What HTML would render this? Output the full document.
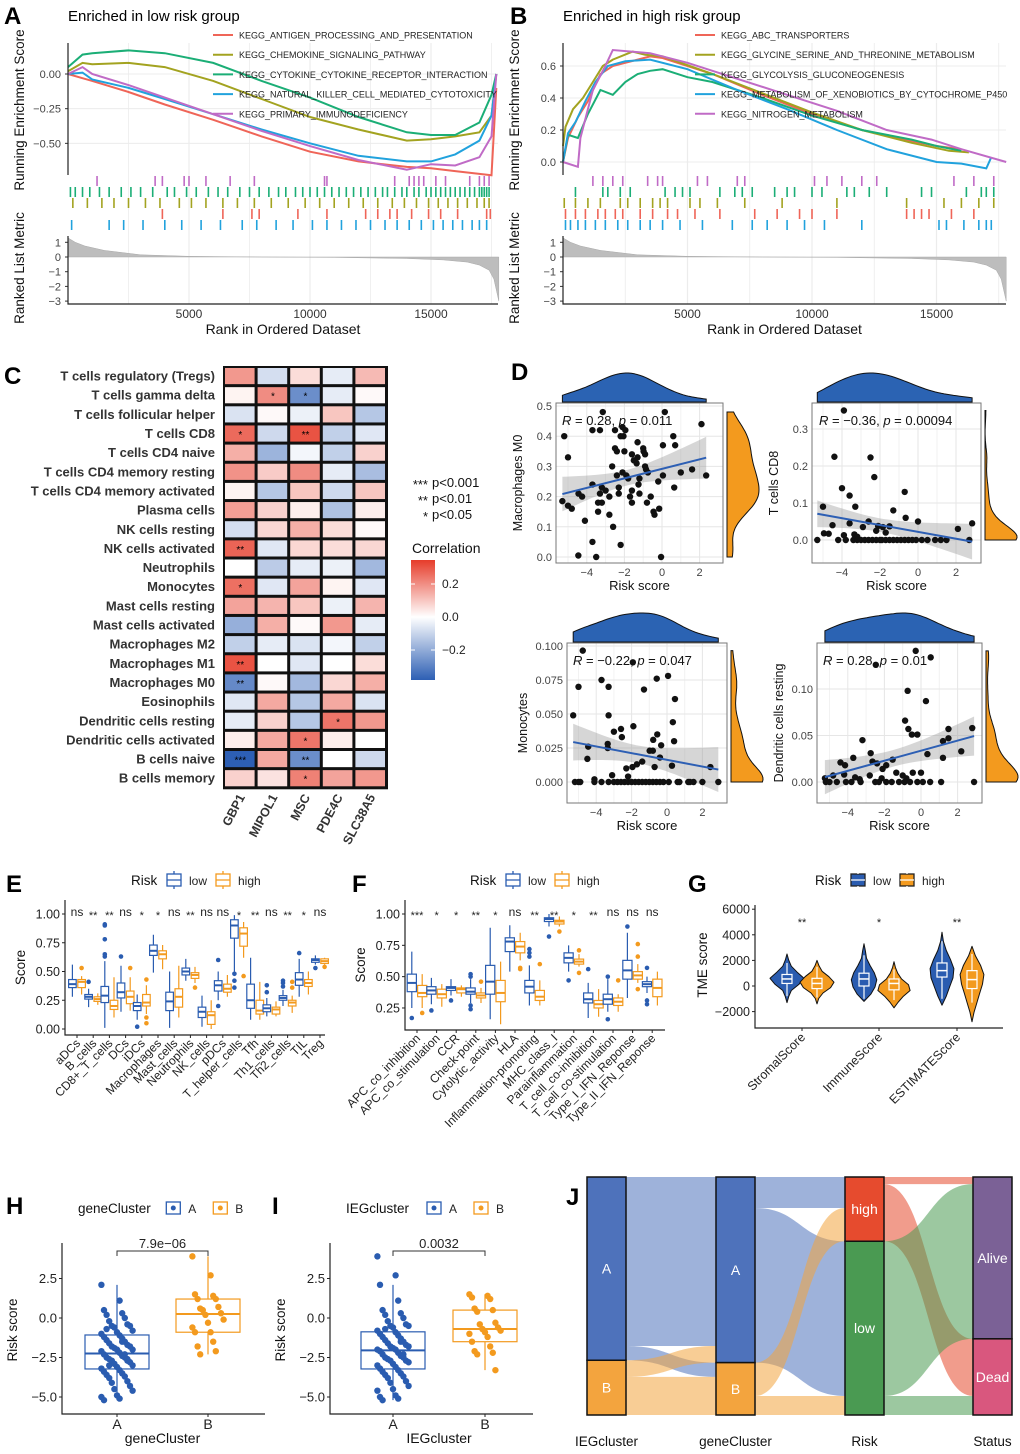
<!DOCTYPE html>
<html><head><meta charset="utf-8"><style>
body{margin:0;background:#fff}
svg{display:block;font-family:"Liberation Sans",Arial,sans-serif}
</style></head><body>
<svg id="fig" width="1020" height="1454" viewBox="0 0 1020 1454" xmlns="http://www.w3.org/2000/svg">
<rect x="0" y="0" width="1020" height="1454" fill="#fff"/>
<defs>
<linearGradient id="corrGrad" x1="0" y1="0" x2="0" y2="1">
<stop offset="0" stop-color="#e63c2a"/><stop offset="0.475" stop-color="#ffffff"/><stop offset="1" stop-color="#2d5fb4"/>
</linearGradient>
</defs>
<g font-weight="bold" font-size="24" fill="#000">
<text x="4" y="24">A</text>
<text x="510" y="24">B</text>
<text x="4" y="384">C</text>
<text x="511" y="380">D</text>
<text x="6" y="892">E</text>
<text x="352" y="892">F</text>
<text x="688" y="892">G</text>
<text x="6" y="1214">H</text>
<text x="272" y="1214">I</text>
<text x="566" y="1205">J</text>
</g>
<text x="68" y="21" font-size="15">Enriched in low risk group</text>
<text x="563" y="21" font-size="15">Enriched in high risk group</text>
<g id="gA"></g>
<g id="gB"></g>
<g id="gC"></g>
<g id="gD"></g>
<g id="gE"></g>
<g id="gF"></g>
<g id="gG"></g>
<g id="gH"></g>
<g id="gI"></g>
<g id="gJ"></g>
</svg>
<script>
// ===== DATA =====
const gseaLowNames = ["KEGG_ANTIGEN_PROCESSING_AND_PRESENTATION","KEGG_CHEMOKINE_SIGNALING_PATHWAY","KEGG_CYTOKINE_CYTOKINE_RECEPTOR_INTERACTION","KEGG_NATURAL_KILLER_CELL_MEDIATED_CYTOTOXICITY","KEGG_PRIMARY_IMMUNODEFICIENCY"];
const lowRanks = [0,600,1000,2500,4000,6000,8000,10000,12000,14000,15000,16000,17000,17500,17700];
const lowES_red    = [0,-0.03,-0.05,-0.13,-0.22,-0.33,-0.45,-0.56,-0.63,-0.67,-0.68,-0.7,-0.72,-0.73,-0.1];
const lowES_olive  = [0.02,0.08,0.07,0.08,0.05,-0.05,-0.18,-0.31,-0.4,-0.48,-0.47,-0.45,-0.42,-0.3,0];
const lowES_green  = [0.05,0.14,0.15,0.17,0.15,0.08,-0.05,-0.17,-0.31,-0.42,-0.44,-0.44,-0.35,-0.15,0];
const lowES_blue   = [0,0.01,-0.04,-0.1,-0.18,-0.29,-0.4,-0.5,-0.59,-0.63,-0.63,-0.58,-0.48,-0.3,0];
const lowES_purple = [0,0.05,0.0,-0.08,-0.17,-0.29,-0.41,-0.52,-0.62,-0.69,-0.65,-0.66,-0.6,-0.45,0];
const lowHits_purple = [1200,3600,3900,4800,5000,5700,6700,7700,10600,10700,13500,14100,14300,14500,14700,15200,15600,16600,17000,17200,17400];
const lowHits_green = [100,300,600,900,1300,1700,2200,2600,3000,3500,4100,4400,4900,5300,5800,6200,6600,7100,7500,7900,8300,8700,9000,9400,9700,10000,10300,10600,10900,11200,11500,11800,12100,12400,12700,13000,13200,13500,13800,14000,14300,14500,14800,15000,15200,15400,15600,15800,16000,16200,16400,16600,16800,17000,17100,17200,17300,17400];
const lowHits_olive = [200,800,1400,1900,2500,3200,3800,4600,5100,5700,6400,7000,7700,8400,9100,9800,10400,11000,11600,12200,12800,13400,13900,14400,14900,15300,15700,16100,16500,16900,17200,17400];
const lowHits_red = [3900,6400,7600,7900,9500,10700,12300,12800,13300,13600,14200,14900,15400,16100,17300,17450];
const lowHits_blue = [150,1700,2300,3100,4000,4700,5500,6300,7200,7800,8600,9300,10100,10700,11300,11900,12500,13100,13600,14100,14600,15100,15500,15900,16300,16700,17000,17300];
const gseaHighNames = ["KEGG_ABC_TRANSPORTERS","KEGG_GLYCINE_SERINE_AND_THREONINE_METABOLISM","KEGG_GLYCOLYSIS_GLUCONEOGENESIS","KEGG_METABOLISM_OF_XENOBIOTICS_BY_CYTOCHROME_P450","KEGG_NITROGEN_METABOLISM"];
const highRanks_red = [0,200,600,1000,1500,2000,2500,3000,3500,4000,6000,8000,10000,12000,14000,15000,16000];
const highES_red = [0,0.15,0.28,0.38,0.55,0.6,0.62,0.64,0.66,0.65,0.55,0.42,0.3,0.2,0.13,0.1,0.08];
const highRanks_olive = [0,100,400,800,1200,1600,2000,2800,3300,4000,6000,8000,10000,12000,14000,15500,16300];
const highES_olive = [0.1,0.22,0.33,0.4,0.5,0.6,0.64,0.69,0.67,0.66,0.55,0.43,0.31,0.2,0.12,0.07,0.06];
const highRanks_green = [0,200,600,1000,1500,2000,2500,3000,3500,4000,5000,6000,8000,10000,12000,14000,15000,16000];
const highES_green = [0,0.17,0.15,0.3,0.45,0.42,0.5,0.55,0.57,0.58,0.53,0.5,0.4,0.29,0.2,0.14,0.1,0.07];
const highRanks_blue = [0,200,500,900,1300,1800,2500,3500,5000,7000,9000,11000,13000,15000,16000,17000,17200];
const highES_blue = [0,0.18,0.25,0.38,0.5,0.6,0.63,0.64,0.58,0.45,0.33,0.2,0.08,0,-0.01,-0.04,0.03];
const highRanks_purple = [0,600,700,1200,1700,2000,3500,5000,7000,9000,11000,13000,14800,16000,17800];
const highES_purple = [0,-0.03,0.15,0.45,0.6,0.7,0.68,0.62,0.52,0.42,0.32,0.2,0.14,0.08,0];
const highHits_purple = [1200,1600,2000,2400,3400,3800,4000,5400,5800,7000,7300,10100,10600,11200,12000,12600,15700,16500,17300];
const highHits_green = [500,1600,1800,2300,2700,4100,4500,4800,5100,6300,6900,7200,7600,8500,9000,9300,10000,10400,11400,11700,12300,13000,14400,14800,16200,16800,17000,17300];
const highHits_olive = [50,500,1000,1500,2300,2600,3100,3600,3900,4200,5100,5500,6200,7300,8800,11000,13800,15300,16000,16700,17300];
const highHits_red = [100,500,900,1400,1700,2100,2400,3100,3600,4200,4600,5300,6300,7700,8600,9500,10000,11000,13800,14100,14400,14700,15600,16500];
const highHits_blue = [100,300,600,900,1300,1700,2200,2600,3100,3500,4000,4700,5600,6800,7600,8200,9000,9700,10500,12000,15100,15400,16100,16700,17000,17200];
const metricRanks = [0,300,700,1500,3000,5000,8000,11000,14000,15500,16500,17000,17400,17600,17800];
const metricVals = [1.3,1.0,0.75,0.45,0.15,0.05,0,-0.03,-0.1,-0.2,-0.35,-0.55,-0.9,-1.5,-3.0];
const cellTypes = ["T cells regulatory (Tregs)","T cells gamma delta","T cells follicular helper","T cells CD8","T cells CD4 naive","T cells CD4 memory resting","T cells CD4 memory activated","Plasma cells","NK cells resting","NK cells activated","Neutrophils","Monocytes","Mast cells resting","Mast cells activated","Macrophages M2","Macrophages M1","Macrophages M0","Eosinophils","Dendritic cells resting","Dendritic cells activated","B cells naive","B cells memory"];
const genes = ["GBP1","MIPOL1","MSC","PDE4C","SLC38A5"];
const corrGBP1   = [0.18,0.02,-0.06,0.26,0.14,0.19,0.02,0.17,-0.07,0.27,0,0.25,0.16,-0.17,-0.1,0.3,-0.25,-0.05,-0.04,0.03,-0.35,0.08];
const corrMIPOL1 = [-0.07,0.2,0.01,-0.08,-0.16,0.09,-0.12,0.08,0.07,-0.05,-0.11,-0.05,0.13,0.14,-0.04,0.0,0.01,0.15,0.08,0.15,0.15,0.05];
const corrMSC    = [0.06,-0.24,-0.03,0.3,-0.02,0.2,0.1,0.03,0.14,0.07,-0.04,0.16,0.1,0.01,-0.06,-0.05,-0.15,-0.12,-0.12,0.24,-0.24,0.22];
const corrPDE4C  = [-0.04,-0.04,0.1,-0.1,-0.1,-0.04,-0.08,-0.13,0.06,0.06,-0.03,0.02,-0.03,0.18,-0.02,0.0,0.07,0.15,0.24,0.03,0.0,0.16];
const corrSLC    = [0.12,0.01,-0.12,-0.05,0.08,-0.14,0.1,0.03,0.01,0.07,-0.15,-0.05,0.13,-0.04,-0.1,0.06,0.14,-0.06,0.18,0.0,-0.08,0.18];
const starsGBP1 = ["","","","*","","","","","","**","","*","","","","**","**","","","","***",""];
const starsMIPOL1 = ["","*","","","","","","","","","","","","","","","","","","","",""];
const starsMSC = ["","*","","**","","","","","","","","","","","","","","","","*","**","*"];
const starsPDE4C = ["","","","","","","","","","","","","","","","","","","*","","",""];
const starsSLC = ["","","","","","","","","","","","","","","","","","","","","",""];
const dTL_x = [-5.2,-5.0,-5.3,-5.0,-4.8,-4.44,-4.25,-4.1,-4.45,-3.7,-3.7,-3.7,-3.5,-3.4,-3.4,-3.3,-3.2,-3.15,-3.3,-3.2,-3.0,-2.8,-2.65,-2.8,-2.6,-2.5,-2.5,-2.4,-2.4,-2.3,-2.3,-2.2,-2.2,-2.1,-2.05,-2.0,-1.95,-2.1,-1.9,-1.8,-1.7,-1.6,-1.6,-1.6,-1.5,-1.35,-1.3,-1.3,-1.2,-1.2,-1.25,-1.0,-0.98,-0.9,-0.9,-0.85,-0.75,-0.8,-0.6,-0.45,-0.4,-0.2,-0.15,-0.05,0.05,0.05,0.15,0.6,0.7,0.65,1.0,1.6,2.1,2.35];
const dTL_y = [0.40,0.33,0.185,0.17,0.16,0.21,0.20,0.12,0.005,0.42,0.24,0.05,0.0,0.15,0.18,0.21,0.23,0.48,0.42,0.18,0.22,0.14,0.30,0.20,0.10,0.42,0.36,0.35,0.27,0.21,0.23,0.04,0.40,0.43,0.40,0.35,0.42,0.28,0.27,0.26,0.20,0.18,0.22,0.34,0.32,0.31,0.38,0.33,0.26,0.21,0.24,0.36,0.35,0.34,0.30,0.29,0.28,0.18,0.20,0.15,0.14,0.25,0.16,0.0,0.37,0.27,0.48,0.40,0.37,0.23,0.28,0.29,0.44,0.27];
const dTR_x = [-3.9,-4.4,-2.5,-2.3,-4.0,-3.6,-3.3,-5.0,-0.7,-1.3,-0.65,0.0,2.1,2.85,-4.5,-3.6,-2.6,-2.9,-2.1,-1.85,-1.5,-1.7,-3.35,-4.95,-4.7,-3.9,-3.2,-2.2,-5.3,-4.2,-3.8,-3.4,-3.2,-3.0,-2.8,-2.6,-2.4,-2.2,-2.0,-1.9,-1.7,-1.5,-1.3,-1.1,-0.9,-0.7,-0.5,-0.3,-0.1,0.2,0.5,0.9,1.2,1.5,2.7];
const dTR_y = [0.35,0.225,0.223,0.17,0.14,0.12,0.09,0.09,0.13,0.08,0.06,0.05,0.03,0.045,0.04,0.045,0.05,0.035,0.038,0.035,0.037,0.02,0.015,0.018,0.017,0.013,0.009,0.025,0,0,0,0,0,0,0,0,0,0,0,0,0,0,0,0,0,0,0,0,0,0,0,0,0,0,0];
const dBL_x = [-4.76,-1.93,0.06,-0.58,-3.7,-3.3,-5.0,-1.3,0.45,-5.3,-3.3,0.33,-1.9,-2.6,-3.0,-2.55,-0.55,-0.78,-0.33,0.4,-3.35,-3.35,-4.45,-4.5,-0.98,-0.8,-0.4,-1.4,-1.7,-0.7,0.28,-2.3,-1.95,2.45,-3.1,-2.2,-4.1,-5.2,-5.0,-4.9,-4.1,-3.7,-3.3,-3.0,-2.8,-2.6,-2.4,-2.2,-2.0,-1.8,-1.6,-1.4,-1.2,-1.0,-0.8,-0.6,-0.4,-0.2,0.1,0.6,0.7,1.2,1.3,1.5,2.0,2.9];
const dBL_y = [0.0966,0.088,0.078,0.076,0.075,0.07,0.07,0.068,0.061,0.049,0.049,0.044,0.041,0.039,0.037,0.033,0.035,0.031,0.027,0.03,0.028,0.025,0.026,0.017,0.023,0.023,0.018,0.015,0.013,0.011,0.012,0.010,0.011,0.011,0.005,0.004,0.002,0,0,0,0,0,0,0,0,0,0,0,0,0,0,0,0,0,0,0,0,0,0,0,0,0,0,0,0,0];
const dBR_x = [-0.29,0.53,-2.47,-0.73,0.27,-0.87,-0.69,-0.5,-0.2,1.5,2.8,1.2,1.5,-3.2,2.2,0.35,1.2,-3.7,-2.75,-4.4,-4.15,-1.55,-2.65,-2.4,-1.9,-2.1,-1.35,-0.45,-1.0,-4.8,-4.2,-3.6,-3.35,-2.8,-2.15,-0.8,0.0,-5.25,-5.2,-5.0,-4.6,-4.1,-3.8,-3.3,-2.5,-2.3,-1.9,-1.6,-1.2,-0.9,-0.6,-0.2,0.1,0.5,1.1,2.9];
const dBR_y = [0.141,0.134,0.126,0.098,0.087,0.066,0.057,0.051,0.051,0.057,0.058,0.044,0.047,0.045,0.033,0.03,0.026,0.026,0.031,0.021,0.018,0.024,0.022,0.02,0.018,0.014,0.01,0.01,0.007,0.007,0.008,0.005,0.003,0.007,0.004,0.004,0.01,0.004,0,0,0,0,0,0,0,0,0,0,0,0,0,0,0,0,0,0];
const dLabels = ["Macrophages M0","T cells CD8","Monocytes","Dendritic cells resting"];
const dStatR = ["0.28","\u22120.36","\u22120.22","0.28"];
const dStatP = ["0.011","0.00094","0.047","0.01"];
const eCats = ["aDCs","B_cells","CD8+_T_cells","DCs","iDCs","Macrophages","Mast_cells","Neutrophils","NK_cells","pDCs","T_helper_cells","Tfh","Th1_cells","Th2_cells","TIL","Treg"];
const eSig = ["ns","**","**","ns","*","*","ns","**","ns","ns","*","**","ns","**","*","ns"];
const eLow = [[.36,.39,.43,.28,.56],[.26,.28,.30,.19,.35],[.23,.29,.37,.01,.59],[.27,.32,.40,.15,.55],[.16,.20,.23,.08,.30],[.64,.68,.73,.49,.82],[.16,.24,.32,.01,.50],[.47,.50,.53,.42,.61],[.10,.15,.19,.02,.29],[.33,.38,.42,.25,.50],[.79,.90,.95,.50,.99],[.18,.25,.39,.08,.62],[.15,.18,.21,.11,.27],[.25,.27,.29,.20,.34],[.38,.43,.49,.28,.61],[.58,.60,.61,.56,.64]];
const eHigh = [[.36,.41,.43,.30,.46],[.24,.26,.28,.21,.31],[.17,.20,.25,.10,.45],[.22,.28,.33,.16,.45],[.20,.23,.30,.13,.38],[.61,.65,.68,.52,.73],[.19,.28,.35,.10,.55],[.44,.47,.49,.40,.54],[.04,.12,.15,.00,.25],[.32,.35,.39,.28,.47],[.72,.83,.88,.62,.93],[.13,.16,.25,.08,.41],[.13,.17,.19,.11,.24],[.20,.23,.25,.14,.29],[.37,.40,.43,.30,.50],[.57,.59,.61,.56,.62]];
const eLowOut = [[],[.41],[.9,.91,.78,.65,.63],[.63],[.02],[],[],[],[],[.6,.2],[.48,.42,.36],[],[.38,.32],[.42,.4,.37],[.66],[.53]];
const eHighOut = [[.53],[],[],[.53],[.43,.1,.05],[],[],[.36],[],[],[.46],[],[],[.41,.36],[],[.54]];
const fCats = ["APC_co_inhibition","APC_co_stimulation","CCR","Check-point","Cytolytic_activity","HLA","Inflammation-promoting","MHC_class_I","Parainflammation","T_cell_co-inhibition","T_cell_co-stimulation","Type_I_IFN_Reponse","Type_II_IFN_Reponse"];
const fSig = ["***","*","*","**","*","ns","**","**","*","**","ns","ns","ns"];
const fLow = [[.38,.45,.52,.25,.70],[.36,.39,.42,.28,.49],[.39,.41,.42,.35,.48],[.36,.38,.41,.29,.48],[.36,.46,.59,.16,.89],[.70,.78,.81,.54,.91],[.37,.42,.47,.27,.59],[.94,.96,.97,.90,1.0],[.61,.65,.69,.54,.75],[.29,.32,.37,.17,.45],[.28,.32,.36,.22,.48],[.48,.55,.63,.33,.85],[.42,.44,.46,.37,.50]];
const fHigh = [[.34,.37,.43,.25,.52],[.33,.36,.40,.26,.44],[.37,.40,.41,.34,.43],[.33,.35,.37,.29,.41],[.30,.37,.47,.12,.62],[.69,.74,.78,.63,.85],[.31,.34,.39,.27,.47],[.92,.94,.95,.90,.98],[.60,.62,.64,.58,.68],[.25,.28,.31,.18,.40],[.27,.30,.33,.22,.36],[.48,.51,.54,.45,.60],[.34,.41,.48,.27,.54]];
const fLowOut = [[.17],[.23],[.31],[.52,.5,.27,.24],[],[],[.72,.69,.66],[.82],[.47],[.56],[.5,.16],[.9],[.57,.31,.28]];
const fHighOut = [[.21],[],[],[.46],[],[.57,.56],[.6],[.86],[.71,.53],[],[.47],[.76,.66,.4],[]];
const gCats = ["StromalScore","ImmuneScore","ESTIMATEScore"];
const gSig = ["**","*","**"];
const gLowRange = [[-1300,2500],[-1200,3300],[-1500,4200]];
const gHighRange = [[-1400,2000],[-1700,1900],[-2800,3100]];
const gLowDens = [[0,.1,.25,.7,1,.6,.25,.1,0],[0,.4,.65,.75,.6,.35,.15,.08,0],[0,.25,.45,.65,.7,.5,.25,.08,0]];
const gHighDens = [[0,.1,.35,.8,1,.7,.3,.12,0],[0,.25,.55,.95,.85,.45,.22,.08,0],[0,.12,.28,.45,.62,.7,.5,.2,0]];
const gLowBox = [[200,550,900,-800,1800],[0,550,1000,-1000,2400],[700,1200,1800,-1000,3500]];
const gHighBox = [[-200,200,600,-900,1500],[-300,200,550,-1100,1300],[-200,500,1200,-1300,2500]];
const hA = [2.1,1.1,0.5,0.3,0.2,0,-0.2,-0.4,-0.5,-0.5,-0.6,-0.8,-0.9,-1.0,-1.1,-1.2,-1.3,-1.4,-1.5,-1.6,-1.7,-1.8,-1.8,-1.9,-2.0,-2.0,-2.1,-2.2,-2.3,-2.4,-2.5,-2.5,-2.6,-2.7,-2.7,-2.8,-2.9,-3.0,-3.1,-3.2,-3.3,-3.4,-3.5,-3.6,-3.7,-3.8,-4.0,-4.1,-4.3,-4.5,-4.6,-4.9,-5.0,-5.1,-5.2,-1.5,-0.7,-2.3,-3.0,-2.6];
const hB = [3.9,2.7,1.5,1.4,1.2,1.2,0.6,0.7,0.5,0.3,0.2,-0.1,-0.3,-0.6,-0.9,-0.9,-1.5,-1.8,-2.1,-2.3];
const iA = [3.9,2.7,2.1,1.1,0.5,0.3,0.2,0,-0.2,-0.4,-0.5,-0.5,-0.6,-0.8,-0.9,-1.0,-1.1,-1.2,-1.3,-1.4,-1.5,-1.6,-1.7,-1.8,-1.8,-1.9,-2.0,-2.0,-2.1,-2.2,-2.3,-2.4,-2.5,-2.5,-2.6,-2.7,-2.7,-2.8,-2.9,-3.0,-3.1,-3.2,-3.3,-3.4,-3.5,-3.6,-3.7,-3.8,-4.0,-4.1,-4.3,-4.5,-4.6,-4.9,-5.0,-5.1,-5.2,-1.5,-0.7,-2.3];
const iB = [1.5,1.4,1.3,1.2,0.6,0.5,0.4,-0.3,-0.4,-0.6,-0.7,-0.8,-0.9,-1.0,-1.2,-1.5,-1.8,-2.1,-2.2,-2.3,-3.3];
const sankeyAxes = ["IEGcluster","geneCluster","Risk","Status"];
const sankeyNodes = [["A","B"],["A","B"],["high","low"],["Alive","Dead"]];
const flowsIEGgene = [[71,6],[7,16]];
const flowsGeneRisk = [[13,65],[14,8]];
const flowsRiskStatus = [[3,24],[65,8]];

// ===== HELPERS =====
const NS = "http://www.w3.org/2000/svg";
function mk(tag, attrs, parent){ const e=document.createElementNS(NS,tag); for(const k in attrs) e.setAttribute(k,attrs[k]); parent.appendChild(e); return e; }
function tx(parent,x,y,s,size,anchor,extra){ const e=mk("text",Object.assign({x:x,y:y,"font-size":size,"text-anchor":anchor||"start",fill:"#222"},extra||{}),parent); e.textContent=s; return e; }
function pts(a){ return a.map(p=>p[0].toFixed(1)+","+p[1].toFixed(1)).join(" "); }
const gseaCols = ["#ef6558","#a3a320","#1bae76","#21a2dd","#c06bc6"];

function gsea(g, x0, pxPerK, esZeroY, esScale, esTicks, esTickLabs, names, ranksList, esList, hitsList, legX, xEnd){
  const xs = r => x0 + r/1000*pxPerK;
  const ye = v => esZeroY - v*esScale;
  const ym = v => 257 - v*14.7;
  [2500,5000,7500,10000,12500,15000,17500].forEach(r=>{
    const l=mk("line",{x1:xs(r),x2:xs(r),y1:43,y2:304,stroke:"#ececec","stroke-width":r%5000===0?1.2:0.8},g);
    
    
  });
  esTicks.forEach((v,i)=>{
    const l=mk("line",{x1:x0,x2:xEnd,y1:ye(v),y2:ye(v),stroke:"#ececec","stroke-width":1},g);
    
    
    const t=tx(g,x0-7,ye(v)+4,esTickLabs[i],11,"end",{fill:"#444"});
    
    
    const k=mk("line",{x1:x0-3,x2:x0,y1:ye(v),y2:ye(v),stroke:"#333"},g);
    
    
  });
  esList.forEach((arr,i)=>{
    const p = arr.map((v,j)=>[xs(ranksList[i][j]),ye(v)]);
    const l=mk("polyline",{points:pts(p),fill:"none",stroke:gseaCols[i],"stroke-width":2},g);
    
    
  });
  names.forEach((n,i)=>{
    const y=35+i*19.7;
    const l=mk("line",{x1:legX,x2:legX+20,y1:y,y2:y,stroke:gseaCols[i],"stroke-width":2},g);
    
    
    const t=tx(g,legX+26,y+3.5,n,9,"start",{fill:"#222"});
    
    
  });
  const rowOrder=[4,2,1,0,3];
  rowOrder.forEach((ci,ri)=>{
    const y0=176+ri*11;
    hitsList[ci].forEach(r=>{
      const l=mk("line",{x1:xs(r),x2:xs(r),y1:y0,y2:y0+10,stroke:gseaCols[ci],"stroke-width":1.6},g);
      
      
    });
  });
  const mp=[[xs(0),ym(0)]].concat(metricRanks.map((r,j)=>[xs(r),ym(metricVals[j])])).concat([[xs(metricRanks[metricRanks.length-1]),ym(0)]]);
  const a=mk("polygon",{points:pts(mp),fill:"#bdbdbd",stroke:"#aaa","stroke-width":0.5},g);
  
  
  [1,0,-1,-2,-3].forEach(v=>{
    const t=tx(g,x0-7,ym(v)+4,v<0?"\u2212"+(-v):String(v),11,"end",{fill:"#444"});
    
    
    const k=mk("line",{x1:x0-3,x2:x0,y1:ym(v),y2:ym(v),stroke:"#333"},g);
    
    
  });
  const ax=mk("path",{d:`M${x0},43V175M${x0},236V304H${xEnd}`,fill:"none",stroke:"#222","stroke-width":1.2},g);
  
  
  [5000,10000,15000].forEach(r=>{
    const t=tx(g,xs(r),318,String(r),12,"middle",{fill:"#333"});
    
    
  });
  const xt=tx(g,(x0+xEnd)/2,334,"Rank in Ordered Dataset",14,"middle",{fill:"#111"});
  
  
  const y1=tx(g,0,0,"Running Enrichment Score",13.5,"middle",{transform:`translate(${x0-44},110) rotate(-90)`,fill:"#111"});
  
  
  const y2=tx(g,0,0,"Ranked List Metric",13.5,"middle",{transform:`translate(${x0-44},268) rotate(-90)`,fill:"#111"});
  
  
}
gsea(document.getElementById("gA"),68,24.2,74,138.7,[0,-0.25,-0.5],["0.00","\u22120.25","\u22120.50"],gseaLowNames,
  [lowRanks,lowRanks,lowRanks,lowRanks,lowRanks],[lowES_red,lowES_olive,lowES_green,lowES_blue,lowES_purple],
  [lowHits_red,lowHits_olive,lowHits_green,lowHits_blue,lowHits_purple],213,498);
gsea(document.getElementById("gB"),563,24.9,162,160,[0,0.2,0.4,0.6],["0.0","0.2","0.4","0.6"],gseaHighNames,
  [highRanks_red,highRanks_olive,highRanks_green,highRanks_blue,highRanks_purple],[highES_red,highES_olive,highES_green,highES_blue,highES_purple],
  [highHits_red,highHits_olive,highHits_green,highHits_blue,highHits_purple],695,1006);

(function(){
  const g=document.getElementById("gC");
  const cols=[corrGBP1,corrMIPOL1,corrMSC,corrPDE4C,corrSLC];
  const stars=[starsGBP1,starsMIPOL1,starsMSC,starsPDE4C,starsSLC];
  const x0=223, y0=366, cw=32.6, rh=19.15;
  function col(v){ const t=Math.min(1,Math.abs(v)/0.34); const c=v>=0?[230,60,42]:[45,95,180]; return `rgb(${Math.round(255+(c[0]-255)*t)},${Math.round(255+(c[1]-255)*t)},${Math.round(255+(c[2]-255)*t)})`; }
  const bg=mk("rect",{x:x0,y:y0,width:cw*5+2,height:rh*22+2,fill:"#111"},g);
  
  
  cellTypes.forEach((ct,r)=>{
    const t=tx(g,215,y0+rh*r+rh/2+5,ct,13,"end",{"font-weight":"bold",fill:"#333"});
    
    
    cols.forEach((arr,c)=>{
      const rc=mk("rect",{x:x0+2+c*cw,y:y0+2+r*rh,width:cw-3,height:rh-3,fill:col(arr[r])},g);
      
      
      if(stars[c][r]){
        const s=tx(g,x0+1+c*cw+cw/2,y0+r*rh+rh/2+5,stars[c][r],10,"middle",{fill:"#000"});
        
        
      }
    });
  });
  genes.forEach((gn,c)=>{
    const t=tx(g,0,0,gn,12.5,"end",{"font-weight":"bold",fill:"#333",transform:`translate(${x0+cw*c+cw/2+6},797) rotate(-62)`});
    
    
  });
  const leg=[["***","p<0.001"],["**","p<0.01"],["*","p<0.05"]];
  leg.forEach((l,i)=>{
    const a=tx(g,428,489+i*16,l[0],13,"end",{fill:"#111"});
    
    
    const b=tx(g,432,487+i*16,l[1],13,"start",{fill:"#111"});
    
    
  });
  const ct=tx(g,412,553,"Correlation",14,"start",{fill:"#111"});
  
  
  const gr=mk("rect",{x:411,y:560,width:24,height:120,fill:"url(#corrGrad)"},g);
  
  
  [[0.2,"0.2"],[0,"0.0"],[-0.2,"\u22120.2"]].forEach(v=>{
    const y=617-v[0]*165;
    const k=mk("path",{d:`M411,${y}h4M431,${y}h4`,stroke:"#fff"},g);
    
    
    const t=tx(g,442,y+4,v[1],12,"start",{fill:"#222"});
    
    
  });
})();

(function(){
  const g=document.getElementById("gD");
  const cfg=[
    {x:dTL_x,y:dTL_y,px0:556,px1:723,py0:403,py1:563,x0:662,sx:18.8,y0:557,sy:302,yt:[0,.1,.2,.3,.4,.5],yl:["0.0","0.1","0.2","0.3","0.4","0.5"],sx2:562,stY:425},
    {x:dTR_x,y:dTR_y,px0:812,px1:981,py0:403,py1:563,x0:918,sx:19,y0:540,sy:370,yt:[0,.1,.2,.3],yl:["0.0","0.1","0.2","0.3"],sx2:819,stY:425},
    {x:dBL_x,y:dBL_y,px0:567,px1:727,py0:643,py1:803,x0:667,sx:17.7,y0:782,sy:1360,yt:[0,.025,.05,.075,.1],yl:["0.000","0.025","0.050","0.075","0.100"],sx2:573,stY:665},
    {x:dBR_x,y:dBR_y,px0:817,px1:982,py0:643,py1:803,x0:921,sx:18.3,y0:782,sy:930,yt:[0,.05,.1],yl:["0.00","0.05","0.10"],sx2:823,stY:665}
  ];
  cfg.forEach((c,k)=>{
    const X=v=>c.x0+v*c.sx, Y=v=>c.y0-v*c.sy;
    const gg=mk("g",{},g);
    
    
    [-5,-4,-3,-2,-1,0,1,2].forEach(v=>{ if(X(v)>c.px0&&X(v)<c.px1){
      const l=mk("line",{x1:X(v),x2:X(v),y1:c.py0,y2:c.py1,stroke:v%2===0?"#e6e6e6":"#f2f2f2"},gg);
      
       }});
    c.yt.forEach((v,i)=>{
      const l=mk("line",{x1:c.px0,x2:c.px1,y1:Y(v),y2:Y(v),stroke:"#e6e6e6"},gg);
      
      
      const t=tx(gg,c.px0-4,Y(v)+4,c.yl[i],11,"end",{fill:"#444"});
      
      
    });
    [-4,-2,0,2].forEach(v=>{
      const t=tx(gg,X(v),c.py1+13,v<0?"\u2212"+(-v):String(v),11,"middle",{fill:"#444"});
      
      
    });
    const n=c.x.length; const mx=c.x.reduce((a,b)=>a+b)/n, my=c.y.reduce((a,b)=>a+b)/n;
    let sxx=0,sxy=0; for(let i=0;i<n;i++){sxx+=(c.x[i]-mx)**2;sxy+=(c.x[i]-mx)*(c.y[i]-my);}
    const b=sxy/sxx, a0=my-b*mx; let sse=0; for(let i=0;i<n;i++) sse+=(c.y[i]-a0-b*c.x[i])**2;
    const s=Math.sqrt(sse/(n-2)); const xmin=Math.min(...c.x), xmax=Math.max(...c.x);
    const up=[],lo=[];
    for(let i=0;i<=30;i++){ const xv=xmin+(xmax-xmin)*i/30; const se=2*s*Math.sqrt(1/n+(xv-mx)**2/sxx); up.push([X(xv),Y(a0+b*xv+se)]); lo.unshift([X(xv),Y(a0+b*xv-se)]); }
    const band=mk("polygon",{points:pts(up.concat(lo)),fill:"#999","fill-opacity":0.4},gg);
    
    
    c.x.forEach((xv,i)=>{
      const p=mk("circle",{cx:X(xv),cy:Y(c.y[i]),r:3.2,fill:"#111"},gg);
      
      
    });
    const rl=mk("line",{x1:X(xmin),y1:Y(a0+b*xmin),x2:X(xmax),y2:Y(a0+b*xmax),stroke:"#2d5fb4","stroke-width":2},gg);
    
    
    const bd=mk("rect",{x:c.px0,y:c.py0,width:c.px1-c.px0,height:c.py1-c.py0,fill:"none",stroke:"#777","stroke-width":1},gg);
    
    
    const st=mk("text",{x:c.sx2,y:c.stY,"font-size":13,fill:"#111"},gg);
    
    
    const parts=[["R","italic"],[" = "+dStatR[k]+", ","normal"],["p","italic"],[" = "+dStatP[k],"normal"]];
    parts.forEach(pp=>{ const ts=mk("tspan",{"font-style":pp[1]},st); ts.textContent=pp[0]; });
    const xt=tx(gg,(c.px0+c.px1)/2,c.py1+27,"Risk score",13,"middle",{fill:"#111"});
    
    
    const yt=tx(gg,0,0,dLabels[k],12.5,"middle",{fill:"#111",transform:`translate(${c.px0-(k===2?40:34)},${(c.py0+c.py1)/2}) rotate(-90)`});
    
    
    function kde(arr,h,v){ let s=0; arr.forEach(a=>{s+=Math.exp(-0.5*((v-a)/h)**2);}); return s/(arr.length*h*Math.sqrt(2*Math.PI)); }
    function sd(arr){const m=arr.reduce((a,b)=>a+b)/arr.length; return Math.sqrt(arr.reduce((a,b)=>a+(b-m)**2,0)/arr.length);}
    const hx=1.06*sd(c.x)*Math.pow(n,-0.2);
    let mxd=0; const dv=[];
    for(let i=0;i<=50;i++){ const xv=xmin+(xmax-xmin)*i/50; const d=kde(c.x,hx,xv); dv.push([xv,d]); mxd=Math.max(mxd,d);}
    const base=c.py0-1; const top=[[X(xmin),base]].concat(dv.map(p=>[X(p[0]),base-p[1]/mxd*29])).concat([[X(xmax),base]]);
    const td=mk("polygon",{points:pts(top),fill:"#2b63b3",stroke:"#111","stroke-width":1},gg);
    
    
    const ymin=Math.min(...c.y), ymax=Math.max(...c.y); const hy=1.06*sd(c.y)*Math.pow(n,-0.2)*0.8;
    const rv=[]; let mry=0;
    for(let i=0;i<=60;i++){ const yv=ymin+(ymax-ymin)*i/60; const d=kde(c.y,hy,yv); rv.push([yv,d]); mry=Math.max(mry,d);}
    const bx=c.px1+4; const rp=[[bx,Y(ymin)]].concat(rv.map(p=>[bx+p[1]/mry*32,Y(p[0])])).concat([[bx,Y(ymax)]]);
    const rd=mk("polygon",{points:pts(rp),fill:"#f39a1e",stroke:"#111","stroke-width":1},gg);
    
    
  });
})();

const BLUE="#2a5cb0", ORANGE="#f39a1e";
function boxSet(g, cats, sig, low, high, lowOut, highOut, x0, dx, yZero, yScale, axL, axR, axB, axT, ticks, tickLabs, off, hw){
  const Y=v=>yZero-v*yScale;
  ticks.forEach((v,i)=>{
    const t=tx(g,axL-5,Y(v)+4.5,tickLabs[i],12.5,"end",{fill:"#222"});
    
    
    const k=mk("line",{x1:axL-3,x2:axL,y1:Y(v),y2:Y(v),stroke:"#222"},g);
    
    
  });
  const ax=mk("path",{d:`M${axL},${axT}V${axB}H${axR}`,fill:"none",stroke:"#222","stroke-width":1.2},g);
  
  
  cats.forEach((c,i)=>{
    const cx=x0+i*dx;
    [[low[i],lowOut[i],BLUE,-off],[high[i],highOut[i],ORANGE,off]].forEach(s=>{
      const b=s[0], x=cx+s[3];
      const w=mk("path",{d:`M${x},${Y(b[3])}V${Y(b[0])}M${x},${Y(b[2])}V${Y(b[4])}`,stroke:s[2],"stroke-width":1.2},g);
      
      
      const r=mk("rect",{x:x-hw,y:Y(b[2]),width:2*hw,height:Y(b[0])-Y(b[2]),fill:"#fff",stroke:s[2],"stroke-width":1.2},g);
      
      
      const m=mk("line",{x1:x-hw,x2:x+hw,y1:Y(b[1]),y2:Y(b[1]),stroke:s[2],"stroke-width":2},g);
      
      
      s[1].forEach(o=>{
        const p=mk("circle",{cx:x,cy:Y(o),r:2.3,fill:s[2]},g);
        
        
      });
    });
    const k=mk("line",{x1:cx,x2:cx,y1:axB,y2:axB+3,stroke:"#222"},g);
    
    
    const t=tx(g,0,0,c,12,"end",{fill:"#222",transform:`translate(${cx+4},${axB+9}) rotate(-45)`});
    
    
    const sg=tx(g,cx,sig[i]==="ns"?916:919,sig[i],sig[i]==="ns"?12:11,"middle",{fill:"#222"});
    
    
  });
  const yt=tx(g,0,0,"Score",13.5,"middle",{fill:"#111",transform:`translate(${axL-40},${(axT+axB)/2}) rotate(-90)`});
  
  
}
function riskLegend(g,x,y,filled){
  const t=tx(g,x,y,"Risk",13.5,"start",{fill:"#111"});
  
  
  [[BLUE,"low",x+36],[ORANGE,"high",x+85]].forEach(s=>{
    const r=mk("rect",{x:s[2],y:y-11,width:14,height:12,fill:filled?s[0]:"#fff",stroke:filled?"#222":s[0],"stroke-width":1.3},g);
    
    
    const l=mk("path",{d:`M${s[2]},${y-5}h14M${s[2]+7},${y-14}v3M${s[2]+7},${y+1}v3`,stroke:filled?"#fff":s[0],"stroke-width":1.3},g);
    
    
    const lt=tx(g,s[2]+22,y,s[1],12,"start",{fill:"#222"});
    
    
  });
}
(function(){
  const g=document.getElementById("gE");
  riskLegend(g,131,885,false);
  boxSet(g,eCats,eSig,eLow,eHigh,eLowOut,eHighOut,77,16.2,1029,115,65,325,1035,900,[0,.25,.5,.75,1],["0.00","0.25","0.50","0.75","1.00"],4.6,3.8);
  const g2=document.getElementById("gF");
  riskLegend(g2,470,885,false);
  boxSet(g2,fCats,fSig,fLow,fHigh,fLowOut,fHighOut,417,19.6,1039.3,125.3,405,665,1030,900,[.25,.5,.75,1],["0.25","0.50","0.75","1.00"],5.2,4.6);
})();

(function(){
  const g=document.getElementById("gG");
  riskLegend(g,815,885,true);
  const Y=v=>986-v*0.0128;
  const axL=755, axR=1003, axB=1028;
  [[6000,"6000"],[4000,"4000"],[2000,"2000"],[0,"0"],[-2000,"\u22122000"]].forEach(v=>{
    const t=tx(g,axL-5,Y(v[0])+4.5,v[1],12.5,"end",{fill:"#222"});
    
    
    const k=mk("line",{x1:axL-3,x2:axL,y1:Y(v[0]),y2:Y(v[0]),stroke:"#222"},g);
    
    
  });
  const ax=mk("path",{d:`M${axL},905V${axB}H${axR}`,fill:"none",stroke:"#222","stroke-width":1.2},g);
  
  
  const cxs=[802,879,957];
  gCats.forEach((c,i)=>{
    [[gLowRange[i],gLowDens[i],gLowBox[i],BLUE,-15],[gHighRange[i],gHighDens[i],gHighBox[i],ORANGE,15]].forEach(s=>{
      const x=cxs[i]+s[4]; const r=s[0], d=s[1], n=d.length-1;
      const R=[],L=[];
      d.forEach((w,j)=>{ const v=r[0]+(r[1]-r[0])*j/n; R.push([x+w*17,Y(v)]); L.unshift([x-w*17,Y(v)]); });
      const vp=mk("polygon",{points:pts(R.concat(L)),fill:s[3],stroke:"#111","stroke-width":1,"stroke-linejoin":"round"},g);
      
      
      const b=s[2];
      const w=mk("path",{d:`M${x},${Y(b[3])}V${Y(b[4])}`,stroke:"#fff","stroke-width":1.2},g);
      
      
      const bx=mk("rect",{x:x-5,y:Y(b[2]),width:10,height:Y(b[0])-Y(b[2]),fill:s[3],stroke:"#fff","stroke-width":1.2},g);
      
      
      const m=mk("line",{x1:x-5,x2:x+5,y1:Y(b[1]),y2:Y(b[1]),stroke:"#fff","stroke-width":1.5},g);
      
      
    });
    const sg=tx(g,cxs[i],926,gSig[i],11,"middle",{fill:"#222"});
    
    
    const k=mk("line",{x1:cxs[i],x2:cxs[i],y1:axB,y2:axB+3,stroke:"#222"},g);
    
    
    const t=tx(g,0,0,c,12.5,"end",{fill:"#222",transform:`translate(${cxs[i]+4},${axB+10}) rotate(-45)`});
    
    
  });
  const yt=tx(g,0,0,"TME score",13.5,"middle",{fill:"#111",transform:`translate(707,965) rotate(-90)`});
  
  
})();

function quant(a,q){ const s=[...a].sort((x,y)=>x-y); const p=(s.length-1)*q; const lo=Math.floor(p); return s[lo]+(s[Math.min(lo+1,s.length-1)]-s[lo])*(p-lo); }
function clusterPlot(g, axL, xA, xB, title, dataA, dataB, pval){
  const Y=v=>1318-v*15.8; const axR=axL+203, axB=1414;
  const lt=tx(g,axL+16,1213,title,13.5,"start",{fill:"#111"});
  
  
  const lx=axL+16+title.length*7.3+8;
  [[BLUE,"A",lx],[ORANGE,"B",lx+47]].forEach(s=>{
    const r=mk("rect",{x:s[2],y:1202,width:14,height:12,fill:"#fff",stroke:s[0],"stroke-width":1.3},g);
    
    
    const d=mk("circle",{cx:s[2]+7,cy:1208,r:2.5,fill:s[0]},g);
    
    
    const t=tx(g,s[2]+22,1213,s[1],12,"start",{fill:"#222"});
    
    
  });
  [[2.5,"2.5"],[0,"0.0"],[-2.5,"\u22122.5"],[-5,"\u22125.0"]].forEach(v=>{
    const t=tx(g,axL-5,Y(v[0])+4.5,v[1],13,"end",{fill:"#222"});
    
    
    const k=mk("line",{x1:axL-3,x2:axL,y1:Y(v[0]),y2:Y(v[0]),stroke:"#222"},g);
    
    
  });
  const ax=mk("path",{d:`M${axL},1243V${axB}H${axR}`,fill:"none",stroke:"#222","stroke-width":1.2},g);
  
  
  [[dataA,xA,BLUE,"A"],[dataB,xB,ORANGE,"B"]].forEach(s=>{
    const a=s[0], x=s[1];
    const q1=quant(a,.25), md=quant(a,.5), q3=quant(a,.75), iqr=q3-q1;
    const wl=Math.min(...a.filter(v=>v>=q1-1.5*iqr)), wh=Math.max(...a.filter(v=>v<=q3+1.5*iqr));
    const w=mk("path",{d:`M${x},${Y(wl)}V${Y(q1)}M${x},${Y(q3)}V${Y(wh)}`,stroke:s[2],"stroke-width":1.2},g);
    
    
    const r=mk("rect",{x:x-32,y:Y(q3),width:64,height:Y(q1)-Y(q3),fill:"none",stroke:s[2],"stroke-width":1.2},g);
    
    
    const m=mk("line",{x1:x-32,x2:x+32,y1:Y(md),y2:Y(md),stroke:s[2],"stroke-width":2},g);
    
    
    a.forEach((v,i)=>{
      const p=mk("circle",{cx:x+((i*7)%13-6)*2.6,cy:Y(v),r:3.2,fill:s[2]},g);
      
      
    });
    const k=mk("line",{x1:x,x2:x,y1:axB,y2:axB+3,stroke:"#222"},g);
    
    
    const t=tx(g,x,axB+15,s[3],14,"middle",{fill:"#222"});
    
    
  });
  const br=mk("path",{d:`M${xA},1256V1251H${xB}V1256`,fill:"none",stroke:"#333","stroke-width":1},g);
  
  
  const pv=tx(g,(xA+xB)/2,1248,pval,13,"middle",{fill:"#222"});
  
  
  const xt=tx(g,(xA+xB)/2,1443,title,14,"middle",{fill:"#111"});
  
  
  const yt=tx(g,0,0,"Risk score",13.5,"middle",{fill:"#111",transform:`translate(${axL-45},1330) rotate(-90)`});
  
  
}
clusterPlot(document.getElementById("gH"),62,117,208,"geneCluster",hA,hB,"7.9e\u221206");
clusterPlot(document.getElementById("gI"),330,393,485,"IEGcluster",iA,iB,"0.0032");

(function(){
  const g=document.getElementById("gJ");
  const colX=[587,716,845,973], nw=39, top=1177, H=238;
  const nodeCols=[["#4e72bb","#f3a43e"],["#4e72bb","#f3a43e"],["#e64b2e","#4a9a52"],["#7b6196","#d9577e"]];
  const flows=[flowsIEGgene,flowsGeneRisk,flowsRiskStatus];
  const sizes=[];
  sizes.push(flowsIEGgene.map(r=>r[0]+r[1]));
  sizes.push([0,1].map(j=>flowsIEGgene[0][j]+flowsIEGgene[1][j]));
  sizes.push([0,1].map(j=>flowsGeneRisk[0][j]+flowsGeneRisk[1][j]));
  sizes.push([0,1].map(j=>flowsRiskStatus[0][j]+flowsRiskStatus[1][j]));
  const total=sizes[0][0]+sizes[0][1]; const k=H/total;
  const nodeY=sizes.map(s=>[top, top+s[0]*k]);
  flows.forEach((f,c)=>{
    const xs=colX[c]+nw, xt=colX[c+1];
    const outOff=[nodeY[c][0],nodeY[c][1]], inOff=[nodeY[c+1][0],nodeY[c+1][1]];
    const src=[0,1].map(i=>{let o=outOff[i];return [0,1].map(j=>{const v=o;o+=f[i][j]*k;return v;});});
    const tgt=[0,1].map(j=>{let o=inOff[j];return [0,1].map(i=>{const v=o;o+=f[i][j]*k;return v;});});
    for(let i=0;i<2;i++)for(let j=0;j<2;j++){
      const h=f[i][j]*k; if(h<=0) continue;
      const y1=src[i][j], y2=tgt[j][i], mx=(xs+xt)/2;
      const d=`M${xs},${y1}C${mx},${y1} ${mx},${y2} ${xt},${y2}V${y2+h}C${mx},${y2+h} ${mx},${y1+h} ${xs},${y1+h}Z`;
      const p=mk("path",{d:d,fill:nodeCols[c][i],"fill-opacity":0.55,stroke:"none"},g);
      
      
    }
  });
  sizes.forEach((s,c)=>{
    s.forEach((v,i)=>{
      const r=mk("rect",{x:colX[c],y:nodeY[c][i],width:nw,height:v*k,fill:nodeCols[c][i],stroke:"#111","stroke-width":1.5},g);
      
      
      const t=tx(g,colX[c]+nw/2,nodeY[c][i]+v*k/2+5,sankeyNodes[c][i],14,"middle",{fill:"#fff"});
      
      
    });
    const a=tx(g,colX[c]+nw/2,1446,sankeyAxes[c],13.5,"middle",{fill:"#111"});
    
    
  });
})();
</script>
</body></html>
